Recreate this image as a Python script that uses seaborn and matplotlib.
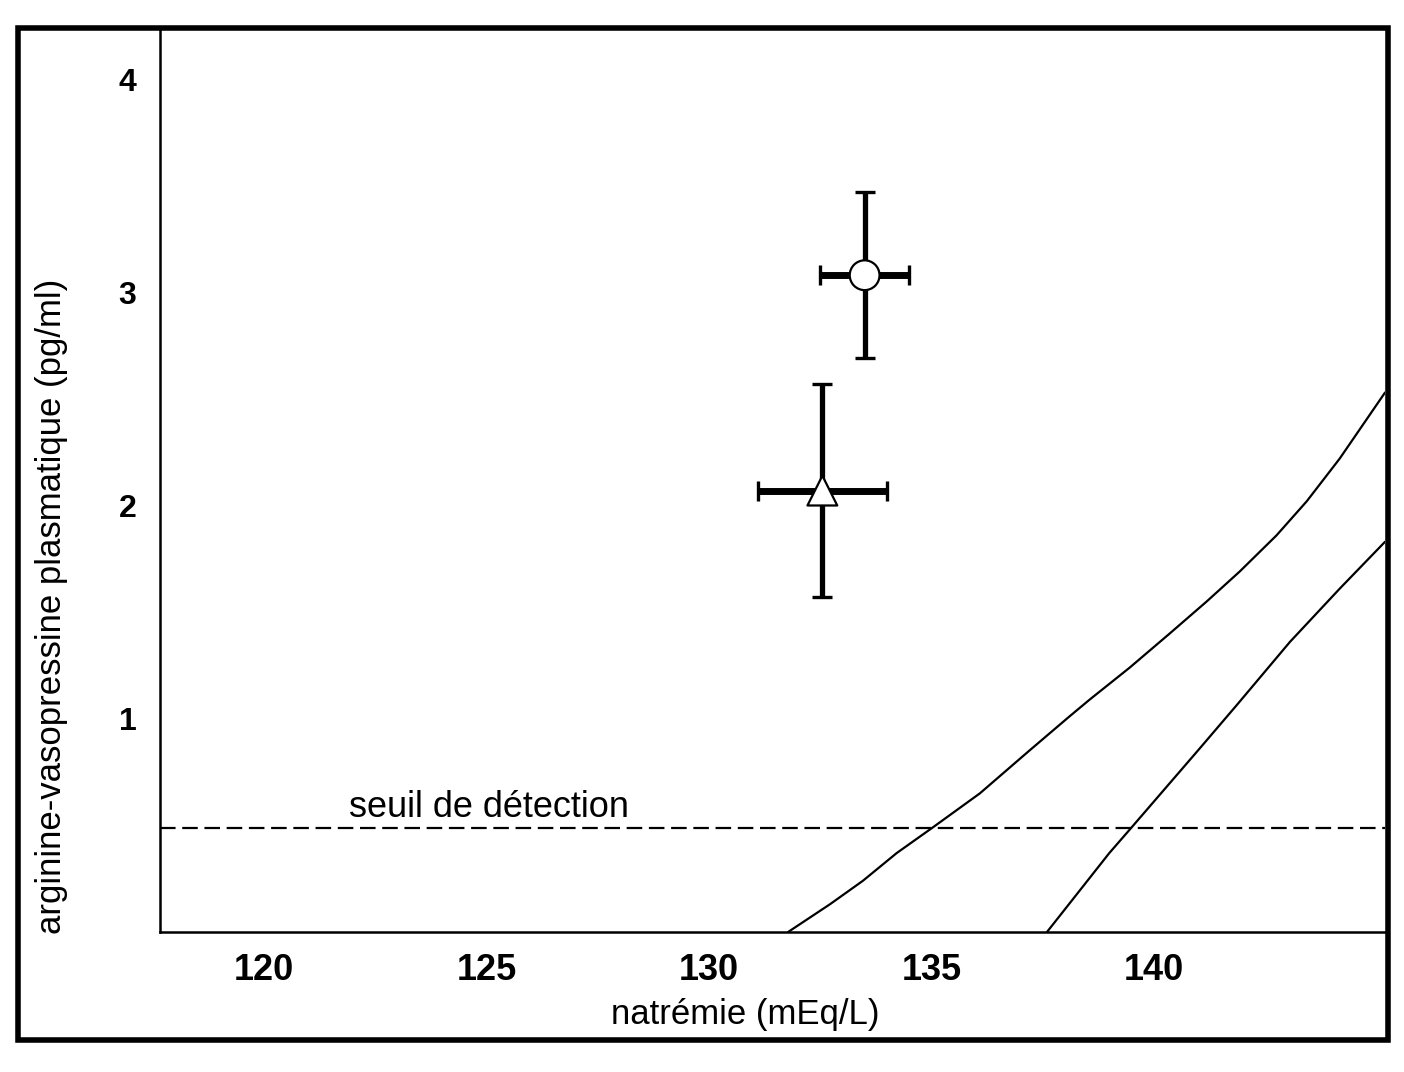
import matplotlib
matplotlib.use("Agg")
import matplotlib.pyplot as plt
import matplotlib.patches as mpatches
import seaborn as sns

# mean points with SD (natrémie, AVP)
group_x = [133.5, 132.55]
group_y = [3.08, 2.07]
group_xerr = [1.0, 1.45]
group_yerr = [0.39, 0.50]
group_marker = ["o", "^"]

# normal relation curves
curve1_x = [131.78, 132.72, 133.46, 134.22, 135.03, 136.09, 137.2, 138.1, 138.56,
            139.46, 140.36, 141.19, 141.93, 142.76, 143.44, 144.18, 145.2]
curve1_y = [0.0, 0.13, 0.24, 0.37, 0.49, 0.65, 0.85, 1.01, 1.09,
            1.24, 1.40, 1.55, 1.69, 1.86, 2.02, 2.22, 2.53]
curve2_x = [137.6, 139.0, 139.5, 141.03, 141.89, 143.06, 144.18, 145.2]
curve2_y = [0.0, 0.37, 0.49, 0.86, 1.07, 1.36, 1.61, 1.83]

threshold = 0.49
x_ticks = [120, 125, 130, 135, 140]
y_ticks = [0, 1, 2, 3, 4]
y_tick_labels = ["", "1", "2", "3", "4"]

sns.set_style("white")
plt.rcParams["font.family"] = ["Liberation Sans", "DejaVu Sans"]
plt.rcParams.update({"text.color": "black", "axes.labelcolor": "black",
                     "xtick.color": "black", "ytick.color": "black"})

fig = plt.figure(figsize=(14.04, 10.72), dpi=100)
ax = fig.add_axes([0.114, 0.1306, 0.8725, 0.8434])

sns.lineplot(x=curve1_x, y=curve1_y, ax=ax, color="black", linewidth=1.6, sort=False)
sns.lineplot(x=curve2_x, y=curve2_y, ax=ax, color="black", linewidth=1.6, sort=False)
ax.axhline(threshold, color="black", linewidth=1.6, dashes=(7, 3))
ax.text(121.9, 0.585, "seuil de détection", fontsize=26, ha="left", va="center")

for x, y, xe, ye in zip(group_x, group_y, group_xerr, group_yerr):
    ax.errorbar(x, y, yerr=ye, fmt="none", ecolor="black",
                elinewidth=3.8, capsize=7, capthick=2.4, zorder=3)
    ax.errorbar(x, y, xerr=xe, fmt="none", ecolor="black",
                elinewidth=5, capsize=7, capthick=2.4, zorder=3)
sns.scatterplot(x=group_x, y=group_y, style=group_marker, markers={"o": "o", "^": "^"},
                s=460, color="white", edgecolor="black", linewidth=1.6,
                legend=False, ax=ax, zorder=4)

ax.set_xlim(117.66, 145.2)
ax.set_ylim(0, 4.24)
ax.set_xticks(x_ticks)
ax.set_yticks(y_ticks)
ax.set_yticklabels(y_tick_labels)
ax.set_yticks([0.5, 1.5, 2.5, 3.5], minor=True)
ax.tick_params(axis="both", which="both", direction="out", color="black", width=1.6)
ax.tick_params(axis="y", which="both", length=8, pad=9, labelsize=23)
ax.tick_params(axis="x", length=6, pad=9, labelsize=26)
for lab in ax.get_xticklabels() + ax.get_yticklabels():
    lab.set_fontweight("bold")

ax.set_xlabel("natrémie (mEq/L)", fontsize=25)
ax.set_ylabel("arginine-vasopressine plasmatique (pg/ml)", fontsize=25)
ax.xaxis.set_label_coords(0.478, -0.073)
ax.yaxis.set_label_coords(-0.075, 0.36)

for side in ["top", "right"]:
    ax.spines[side].set_visible(False)
for side in ["left", "bottom"]:
    ax.spines[side].set_color("black")
    ax.spines[side].set_linewidth(1.8)

# outer frame around the whole figure
frame = mpatches.Rectangle((0.0128, 0.030), 0.9758, 0.944, transform=fig.transFigure,
                           fill=False, edgecolor="black", linewidth=4)
fig.patches.append(frame)

fig.savefig("out.png", dpi=100)
